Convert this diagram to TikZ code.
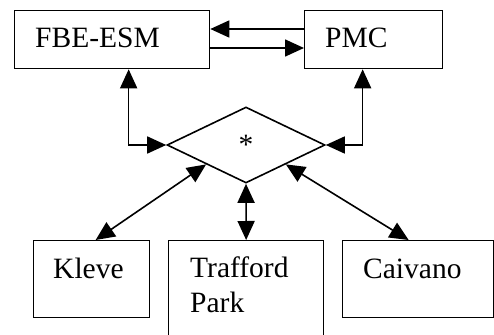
\documentclass[tikz,border=0pt]{standalone}
\usepackage{fontspec}
\setmainfont{Liberation Serif}
\usetikzlibrary{arrows.meta,shapes.geometric}
\begin{document}
\begin{tikzpicture}[x=1pt,y=-1pt,
  box/.style={draw,line width=1.3pt,rectangle,inner sep=0pt,anchor=north west},
  lbl/.style={anchor=base west,inner sep=0pt,font=\fontsize{29.5}{35}\selectfont,align=left},
  link/.style={line width=1.6pt,-{Triangle[length=19pt,width=17pt]}},
  both/.style={line width=1.6pt,{Triangle[length=19pt,width=17pt]}-{Triangle[length=19pt,width=17pt]}}]
\useasboundingbox (0,0) rectangle (494,334);
% upper row
\node[box,minimum width=195pt,minimum height=58pt] (fbe) at (14,10) {};
\node[box,minimum width=138pt,minimum height=58pt] (pmc) at (304,10) {};
\node[lbl] (fbetxt) at (35,48) {FBE-ESM};
\node[lbl] (pmctxt) at (325,48) {PMC};
% central junction
\node[diamond,draw,line width=1.6pt,minimum width=158pt,minimum height=76pt,inner sep=0pt,
      font=\fontsize{29.5}{35}\selectfont] (dia) at (246,145) {*};
% lower row
\node[box,minimum width=116pt,minimum height=77pt] (kleve) at (33,240) {};
\node[box,minimum width=155pt,minimum height=110pt] (tp) at (168,240) {};
\node[box,minimum width=151pt,minimum height=77pt] (cai) at (342,240) {};
\node[lbl] (klevetxt) at (53,278) {Kleve};
\node[lbl] (tptxt) at (190,312) {Trafford\\Park};
\node[lbl] (caitxt) at (363,278) {Caivano};
% connectors
\draw[link] (pmc.west |- 0,29) -- (fbe.east |- 0,29);
\draw[link] (fbe.east |- 0,48) -- (pmc.west |- 0,48);
\draw[both] ([xshift=16.5pt]fbe.south) |- (dia.west);
\draw[both] ([xshift=-11pt]pmc.south) |- (dia.east);
\draw[both] ([xshift=4pt]kleve.north) -- (dia.south west);
\draw[both] (tp.north) -- (dia.south);
\draw[both] ([xshift=-9.5pt]cai.north) -- (dia.south east);
\end{tikzpicture}
\end{document}
